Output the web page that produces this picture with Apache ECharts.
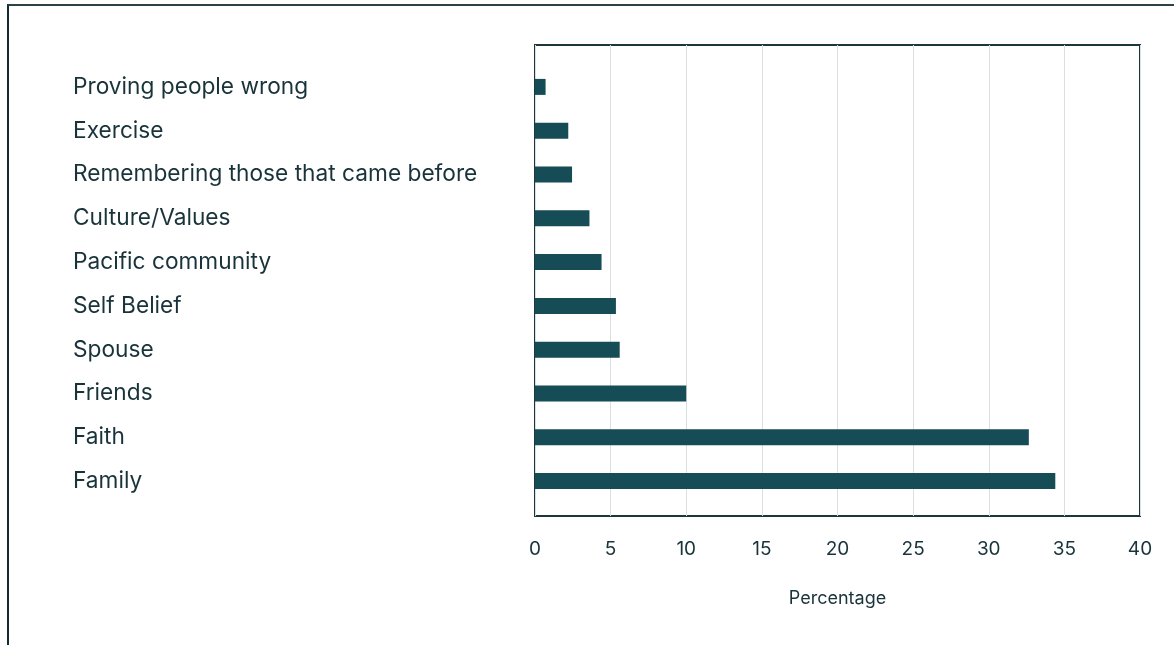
<!DOCTYPE html>
<html>
<head>
<meta charset="utf-8">
<script src="https://cdn.jsdelivr.net/npm/echarts@6/dist/echarts.min.js"></script>
<style>
  html, body { margin: 0; padding: 0; background: #fff; }
  #chart { width: 1174px; height: 645px; }
  .page-edge {
    position: absolute; left: 7px; top: 4px; right: 0; bottom: 0;
    border-top: 2px solid #2c4249; border-left: 2px solid #122a30;
    pointer-events: none;
  }
</style>
</head>
<body>
<div id="chart"></div>
<div class="page-edge"></div>
<script>
const categories = [
  'Proving people wrong',
  'Exercise',
  'Remembering those that came before',
  'Culture/Values',
  'Pacific community',
  'Self Belief',
  'Spouse',
  'Friends',
  'Faith',
  'Family'
];
const percentages = [0.7, 2.2, 2.45, 3.6, 4.4, 5.35, 5.6, 10.0, 32.65, 34.4];
const xTicks = [0, 5, 10, 15, 20, 25, 30, 35, 40];

const ink = '#19333b';
const barColor = '#164c56';
const font = 'Inter, "Noto Sans", sans-serif';

const chart = echarts.init(document.getElementById('chart'));
chart.setOption({
  animation: false,
  textStyle: { fontFamily: font },
  grid: [
    // frame + gridlines
    { left: 535, right: 34, top: 45, bottom: 129, show: true, borderColor: '#1c363d', borderWidth: 2, backgroundColor: 'transparent' },
    // bars
    { left: 535, right: 34, top: 65, bottom: 142 }
  ],
  xAxis: [
    {
      gridIndex: 0, type: 'value', min: xTicks[0], max: xTicks[xTicks.length - 1], interval: 5,
      axisLine: { show: false }, axisTick: { show: false },
      splitLine: { show: true, lineStyle: { color: '#dcdfe0', width: 1 } },
      axisLabel: { color: ink, fontSize: 19, margin: 24, fontFamily: font },
      name: 'Percentage', nameLocation: 'middle', nameGap: 74,
      nameTextStyle: { color: ink, fontSize: 18, fontFamily: font }
    },
    {
      gridIndex: 1, type: 'value', min: xTicks[0], max: xTicks[xTicks.length - 1],
      show: false, splitLine: { show: false }
    }
  ],
  yAxis: [
    { gridIndex: 0, type: 'value', show: false, splitLine: { show: false } },
    {
      gridIndex: 1, type: 'category', data: categories, inverse: true,
      axisLine: { show: false }, axisTick: { show: false },
      axisLabel: { color: ink, fontSize: 22.7, align: 'left', margin: 462, fontFamily: font }
    }
  ],
  series: [{
    type: 'bar',
    xAxisIndex: 1, yAxisIndex: 1,
    data: percentages,
    barWidth: 16,
    itemStyle: { color: barColor }
  }]
});
</script>
</body>
</html>
